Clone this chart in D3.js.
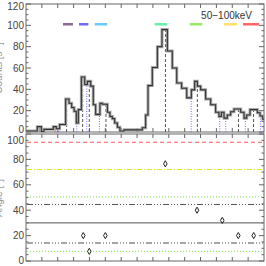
<!DOCTYPE html>
<html>
<head>
<meta charset="utf-8">
<script src="https://cdn.jsdelivr.net/npm/d3@7"></script>
<style>
  body { margin: 0; background: #fff; }
  text { font-family: "Liberation Sans", Arial, sans-serif; }
</style>
</head>
<body>
<script>
// histogram (bin edges in s, counts)
var edges = [0,7.1,9.7,11.3,17.2,19.1,21.2,25.0,27.1,28.8,30.3,31.7,33.0,34.9,37.0,38.7,40.8,42.4,
  43.9,46.6,48.1,51.3,52.9,54.4,55.9,57.6,59.2,61.8,73.3,75.4,76.9,79.6,82.8,85.7,89.1,92.2,95.0,98.1,
  101.3,104.2,106.3,108.0,110.1,113.2,116.4,119.5,121.6,123.1,124.8,126.9,129.0,131.1,135.3,137.4,139.1,141.2,145.8,147.5,
  149.2,150];
var counts = [1,5,0.5,2.5,5,3,7, 31,27,23,19.5,8.5,21,51.5,44.5,47.5,43, 25.5,16.5,27,26,18.5,14.5,12.5,8.5,4.5,1,
  2,4,16,43.5,60.5,80,96,76,60,46, 41,32,39.5,47.5,43,39.5,31,25.5,18.5,14.5, 18.5,13,16,19,21.5,18.5,13,16,21,18, 15,12];

// markers in top panel
var dashedT = [25.6, 35.7, 39.9, 50.4, 87.9, 108.0, 133.9, 143.4];
var dottedT = [20.6, 32.0, 38.3, 46.3, 104.1, 122.1, 125.9, 138.2, 147.9];
var redT = [8.4, 18.3];

// coloured bars
var barStart = [23.3, 33.4, 43.3, 81.1, 103.2, 124.8, 136.8];
var barEnd   = [29.6, 39.3, 51.2, 89.1, 111.1, 133.2, 146.9];
var barColor = ["#8c6a95", "#7068ff", "#66ccff", "#66eeaa", "#99e866", "#ffe066", "#ff6666"];
var barLevel = 101;

// bottom panel points and reference levels
var ptT = [36.1, 39.9, 50.0, 87.8, 107.8, 123.7, 133.8, 143.5];
var ptV = [20, 7.6, 20, 76.5, 40, 32, 20, 20];
var levels = [93.5, 72, 50.5, 44.5, 30, 14.2, 7.6];
var levelColor = ["#ff5555", "#dde800", "#77ee44", "#555", "#555", "#888", "#77ee44"];
var levelDash = ["4,3", "5,2,1,2", "1,2", "6,2,1,2,1,2,1,2", null, "6,2,1,2,1,2,1,2", "1,2"];

var topTicks = [0, 20, 40, 60, 80, 100, 120];
var botTicks = [0, 20, 40, 60, 80, 100];

var W = 266, H = 266;
var svg = d3.select("body").append("svg").attr("width", W).attr("height", H);

var x = d3.scaleLinear().domain([0, 150]).range([26, 264]);
var yTop = d3.scaleLinear().domain([0, 120]).range([132, 4]);
var yBot = d3.scaleLinear().domain([0, 100]).range([261, 134]);

var axisCol = "#666";

function frame(y, ticks, y0, y1, padTop, padBot) {
  var g = svg.append("g");
  g.append("rect").attr("x", x(0)).attr("y", y1).attr("width", x(150) - x(0)).attr("height", y0 - y1)
    .attr("fill", "none").attr("stroke", axisCol).attr("stroke-width", 1);
  // x ticks, top and bottom, inward
  d3.range(10, 150, 10).forEach(function (t) {
    g.append("line").attr("x1", x(t)).attr("x2", x(t)).attr("y1", y0).attr("y2", y0 - 4).attr("stroke", axisCol);
    g.append("line").attr("x1", x(t)).attr("x2", x(t)).attr("y1", y1).attr("y2", y1 + 4).attr("stroke", axisCol);
  });
  // y ticks both sides
  var dom = y.domain();
  d3.range(dom[0], dom[1] + 0.1, 5).forEach(function (v) {
    var len = v % 20 === 0 ? 5 : 2.5;
    g.append("line").attr("x1", x(0)).attr("x2", x(0) + len).attr("y1", y(v)).attr("y2", y(v)).attr("stroke", axisCol);
    g.append("line").attr("x1", x(150)).attr("x2", x(150) - len).attr("y1", y(v)).attr("y2", y(v)).attr("stroke", axisCol);
  });
  ticks.forEach(function (v) {
    var ty = Math.max(y1 + padTop, Math.min(y0 - padBot, y(v)));
    g.append("text").attr("x", 24).attr("y", ty).attr("dy", "0.35em")
      .attr("text-anchor", "end").attr("font-size", 10).attr("fill", "#444").text(v);
  });
}

frame(yTop, topTicks, 132, 4, 2, 3);
frame(yBot, botTicks, 261, 134, 6, 1);

function histVal(t) {
  var i = Math.max(0, Math.min(counts.length - 1, d3.bisectRight(edges, t) - 1));
  return counts[i];
}

// vertical markers
function markers(list, col, dash, w) {
  svg.append("g").selectAll("line").data(list).enter().append("line")
    .attr("x1", function (d) { return x(d); }).attr("x2", function (d) { return x(d); })
    .attr("y1", yTop(0)).attr("y2", function (d) { return yTop(histVal(d)); })
    .attr("stroke", col).attr("stroke-width", w).attr("stroke-dasharray", dash);
}
markers(dashedT, "#555", "3,2", 1);
markers(dottedT, "#6666ff", "1,1.5", 1);
markers(redT, "#ff5555", null, 1);

// histogram step line
var pts = [];
counts.forEach(function (c, i) { pts.push([edges[i], c]); pts.push([edges[i + 1], c]); });
var line = d3.line().x(function (d) { return x(d[0]); }).y(function (d) { return yTop(d[1]); });
svg.append("path").attr("d", line(pts)).attr("fill", "none").attr("stroke", "#aaa").attr("stroke-width", 3);
svg.append("path").attr("d", line(pts)).attr("fill", "none").attr("stroke", "#333").attr("stroke-width", 1.1);

// coloured bars
svg.append("g").selectAll("line").data(barStart).enter().append("line")
  .attr("x1", function (d) { return x(d); })
  .attr("x2", function (d, i) { return x(barEnd[i]); })
  .attr("y1", yTop(barLevel)).attr("y2", yTop(barLevel))
  .attr("stroke", function (d, i) { return barColor[i]; }).attr("stroke-width", 2.5);

svg.append("text").attr("x", 252).attr("y", 19).attr("text-anchor", "end")
  .attr("font-size", 10).attr("fill", "#333").text("50\u2212100keV");

// bottom panel lines
svg.append("g").selectAll("line").data(levels).enter().append("line")
  .attr("x1", x(0) + 1).attr("x2", x(150) - 1)
  .attr("y1", function (d) { return yBot(d); }).attr("y2", function (d) { return yBot(d); })
  .attr("stroke", function (d, i) { return levelColor[i]; })
  .attr("stroke-width", function (d, i) { return i === 5 ? 1.5 : 1; })
  .attr("stroke-dasharray", function (d, i) { return levelDash[i]; });

// diamonds
var diamond = d3.symbol().type(d3.symbolDiamond).size(11);
svg.append("g").selectAll("path").data(ptT).enter().append("path")
  .attr("d", diamond)
  .attr("transform", function (d, i) { return "translate(" + x(d) + "," + yBot(ptV[i]) + ")"; })
  .attr("fill", "none").attr("stroke", "#222").attr("stroke-width", 1);

// y titles, mostly outside the crop as in the reference
svg.append("text").attr("transform", "translate(2,68) rotate(-90)").attr("text-anchor", "middle")
  .attr("font-size", 10).attr("fill", "#999").text("Counts [s\u207B\u00B9]");
svg.append("text").attr("transform", "translate(2,198) rotate(-90)").attr("text-anchor", "middle")
  .attr("font-size", 10).attr("fill", "#999").text("Angle [\u00B0]");
</script>
</body>
</html>
